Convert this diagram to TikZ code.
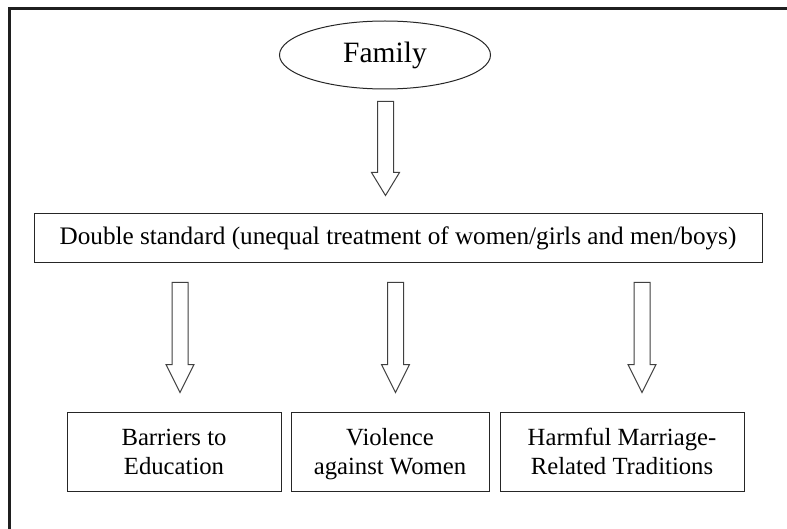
\documentclass[tikz,border=0pt]{standalone}
\usepackage{fontspec}
\setmainfont{Liberation Serif}
\usetikzlibrary{shapes.geometric,calc}
\newcommand\topstrut{\rule{0pt}{24pt}}
\newcommand\botstrut{\rule[-8pt]{0pt}{8pt}}
\tikzset{
  boxline/.style={draw=black!85, line width=1pt},
  outcome/.style={boxline, rectangle, inner sep=0pt, minimum height=79pt, align=center,
     font=\fontsize{24.7}{29}\selectfont},
  arrowline/.style={draw=black!75, line width=1pt, fill=white},
}
\newcommand\hollowarrow[3]{%
  \path[arrowline] ($(#1)+(-8,0)$) -- ($(#1)+(8,0)$) -- ($(#2)+(8,-#3)$) -- ($(#2)+(14,-#3)$)
    -- (#2) -- ($(#2)+(-14,-#3)$) -- ($(#2)+(-8,-#3)$) -- cycle;}
\begin{document}
\begin{tikzpicture}[x=1pt,y=-1pt]
\useasboundingbox (0,0) rectangle (787,529);
\fill[white] (0,0) rectangle (787,529);
\draw[line width=3pt, black!88] (9.5,529) -- (9.5,8.5) -- (787,8.5);

\node[boxline, ellipse, inner sep=0pt, minimum width=211pt, minimum height=68pt,
  font=\fontsize{29.5}{34}\selectfont] (fam) at (385,55) {Family};
\node[boxline, rectangle, inner sep=0pt, minimum width=728pt, minimum height=49pt,
  font=\fontsize{25.2}{29}\selectfont] (ds) at (398,238.5)
  {\rule[-5pt]{0pt}{23pt}Double standard (unequal treatment of women/girls and men/boys)};
\node[outcome, minimum width=214pt] (b1) at (174,451.5) {\topstrut Barriers to\\Education\botstrut};
\node[outcome, minimum width=198pt] (b2) at (390,451.5) {\topstrut Violence\\against Women\botstrut};
\node[outcome, minimum width=244pt] (b3) at (622,451.5) {\topstrut Harmful Marriage-\\Related Traditions\botstrut};

\coordinate (a0t) at ($(fam.south -| 385.5,0)+(0,12)$);
\coordinate (a0h) at ($(ds.north -| 385.5,0)+(0,-18)$);
\coordinate (a1t) at ($(ds.south -| 180,0)+(0,19)$);
\coordinate (a1h) at ($(b1.north -| 180,0)+(0,-19)$);
\coordinate (a2t) at ($(ds.south -| 395.5,0)+(0,19)$);
\coordinate (a2h) at ($(b2.north -| 395.5,0)+(0,-19)$);
\coordinate (a3t) at ($(ds.south -| 642,0)+(0,19)$);
\coordinate (a3h) at ($(b3.north -| 642,0)+(0,-19)$);
\hollowarrow{a0t}{a0h}{23}
\hollowarrow{a1t}{a1h}{28}
\hollowarrow{a2t}{a2h}{28}
\hollowarrow{a3t}{a3h}{28}
\end{tikzpicture}
\end{document}
